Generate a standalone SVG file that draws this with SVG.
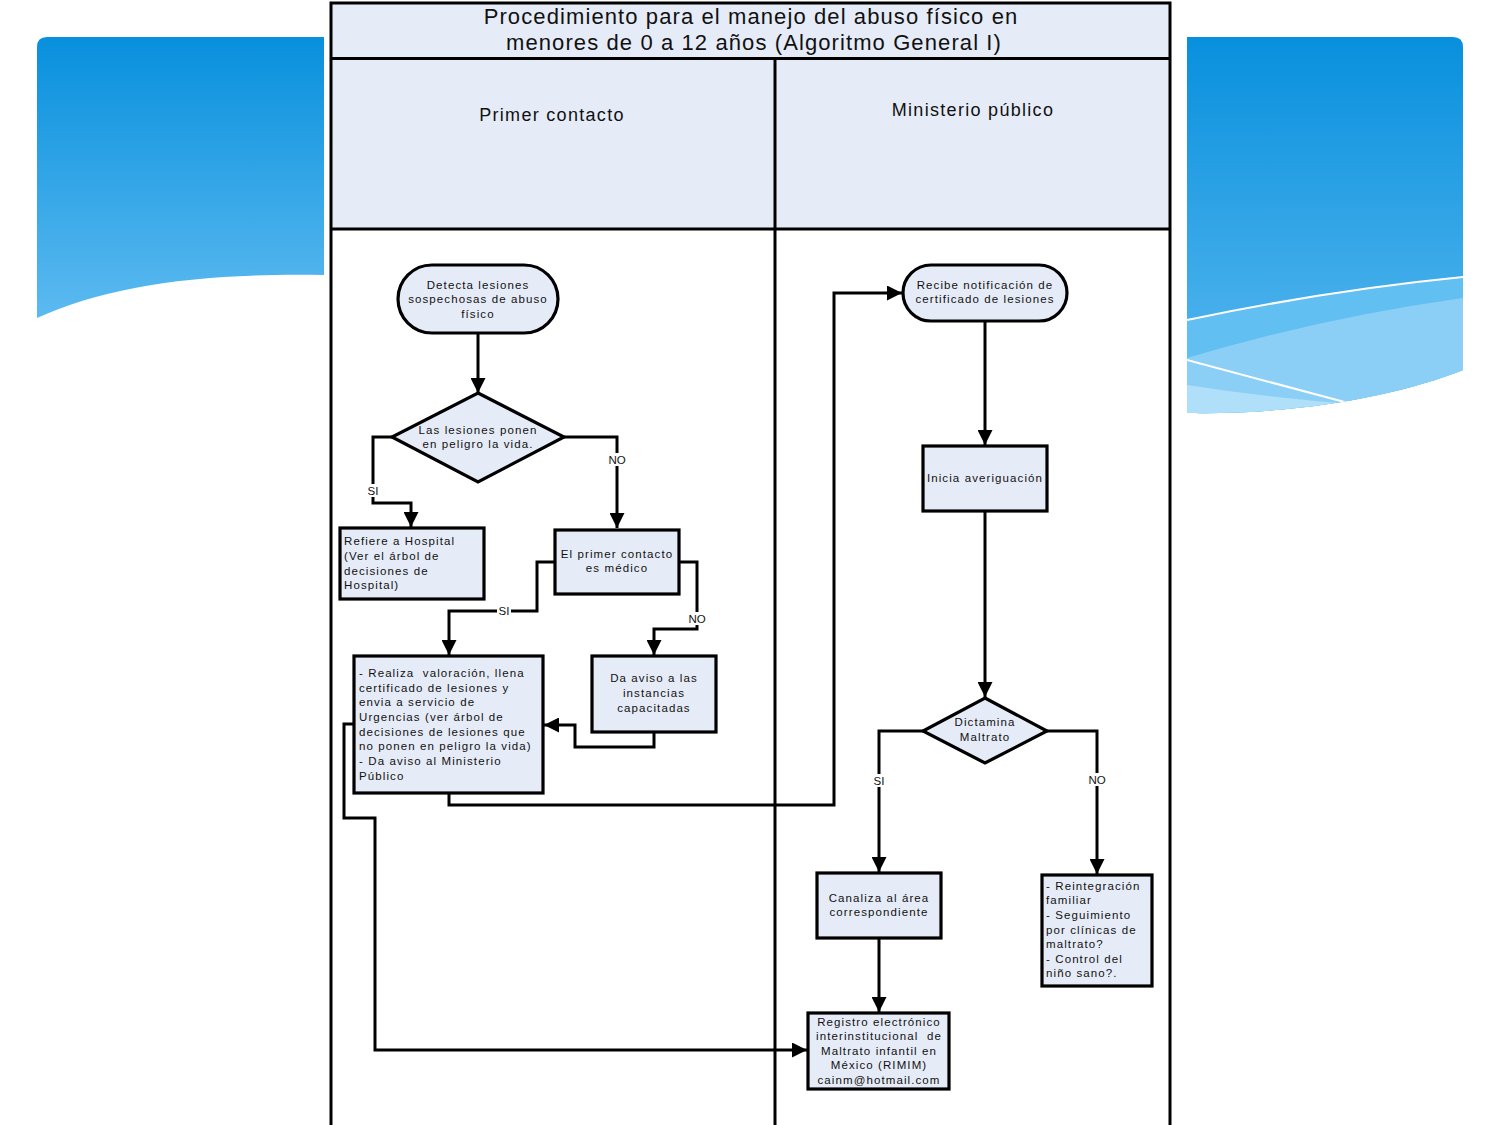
<svg xmlns="http://www.w3.org/2000/svg" width="1500" height="1125" viewBox="0 0 1500 1125">
<style>
.nd{fill:#e6ecf7;stroke:#000;stroke-width:3.2}
.t{font-family:"Liberation Sans",Arial,sans-serif;font-size:11.5px;letter-spacing:1.1px;fill:#111;white-space:pre}
.c{text-anchor:middle}
.hd{font-family:"Liberation Sans",Arial,sans-serif;font-size:18px;letter-spacing:1.3px;fill:#111;text-anchor:middle}
.ti{font-family:"Liberation Sans",Arial,sans-serif;font-size:22px;letter-spacing:1.1px;fill:#111;text-anchor:middle}
.cn{fill:none;stroke:#000;stroke-width:3}
.ar{marker-end:url(#ah)}
.lb{font-family:"Liberation Sans",Arial,sans-serif;font-size:11.5px;fill:#111;text-anchor:middle}
.lbg{fill:#fff}
.fr{fill:none;stroke:#000;stroke-width:3}
</style>
<defs>
<linearGradient id="bg" x1="0" y1="0" x2="0" y2="1">
<stop offset="0" stop-color="#0890dd"/>
<stop offset="1" stop-color="#5cbaf0"/>
</linearGradient>
<marker id="ah" markerUnits="userSpaceOnUse" markerWidth="15" markerHeight="15" refX="15" refY="7.5" orient="auto">
<path d="M0,0 L15,7.5 L0,15 z" fill="#000"/>
</marker>
<clipPath id="rc"><path d="M1187,37 H1453 Q1463,37 1463,47 V370 C1400,395 1300,415 1187,413 Z"/></clipPath>
</defs>

<g id="background">
<path d="M47,37 H324 V275 C200,273 110,285 37,318 V47 Q37,37 47,37 Z" fill="url(#bg)"/>
<path d="M1187,37 H1453 Q1463,37 1463,47 V370 C1400,395 1300,415 1187,413 Z" fill="url(#bg)"/>
<g clip-path="url(#rc)">
<path d="M1187,320 Q1330,290 1463,277 V430 H1187 Z" fill="#62bff1"/>
<path d="M1187,358 Q1320,318 1463,298 V430 H1187 Z" fill="#8ccff6"/>
<path d="M1187,385 Q1270,398 1352,404 L1187,430 Z" fill="#b0dff9"/>
<path d="M1187,320 Q1330,290 1463,277" fill="none" stroke="#fff" stroke-width="2"/>
<path d="M1187,360 L1352,404" fill="none" stroke="#fff" stroke-width="2"/>
</g>
</g>

<g id="frame">
<rect x="331" y="3" width="839" height="55" fill="#e6ecf7"/>
<rect x="331" y="58" width="444" height="171" fill="#e6ecf7"/>
<rect x="775" y="58" width="395" height="171" fill="#e6ecf7"/>
<rect x="331" y="229" width="839" height="900" fill="#fff"/>
<path class="fr" d="M331,1130 V3 H1170 V1130"/>
<path class="fr" d="M331,58.5 H1170 M331,229 H1170 M775,58 V1130"/>
<text class="ti" x="751" y="24">Procedimiento para el manejo del abuso físico en</text>
<text class="ti" x="754" y="50">menores de 0 a 12 años (Algoritmo General I)</text>
<text class="hd" x="552" y="121">Primer contacto</text>
<text class="hd" x="973" y="116">Ministerio público</text>
</g>

<g id="connectors">
<path class="cn ar" d="M478,333 V393"/>
<path class="cn ar" d="M392,437 H373 V503 H411 V527"/>
<path class="cn ar" d="M564,437 H617 V528"/>
<path class="cn ar" d="M555,562 H537 V611 H449 V655"/>
<path class="cn ar" d="M679,562 H697 V629 H654 V655"/>
<path class="cn ar" d="M654,732 V747 H575 V725 H544"/>
<path class="cn ar" d="M449,793 V805 H834 V293 H902"/>
<path class="cn ar" d="M354,724 H344 V818 H375 V1050 H807"/>
<path class="cn ar" d="M985,321 V445"/>
<path class="cn ar" d="M985,511 V697"/>
<path class="cn ar" d="M923,731 H879 V872"/>
<path class="cn ar" d="M1047,731 H1097 V874"/>
<path class="cn ar" d="M879,938 V1012"/>
<rect class="lbg" x="366" y="484" width="14" height="13"/>
<text class="lb" x="373" y="495">SI</text>
<rect class="lbg" x="606" y="453" width="22" height="13"/>
<text class="lb" x="617" y="464">NO</text>
<rect class="lbg" x="497" y="604" width="14" height="13"/>
<text class="lb" x="504" y="615">SI</text>
<rect class="lbg" x="686" y="612" width="22" height="13"/>
<text class="lb" x="697" y="623">NO</text>
<rect class="lbg" x="872" y="774" width="14" height="13"/>
<text class="lb" x="879" y="785">SI</text>
<rect class="lbg" x="1086" y="773" width="22" height="13"/>
<text class="lb" x="1097" y="784">NO</text>
</g>

<g id="n1">
<rect class="nd" x="398" y="265" width="160" height="68" rx="34" ry="34"/>
<text class="t c" x="478" y="289">Detecta lesiones</text>
<text class="t c" x="478" y="303">sospechosas de abuso</text>
<text class="t c" x="478" y="318">físico</text>
</g>
<g id="n2">
<polygon class="nd" points="478,393 564,437 478,482 392,437"/>
<text class="t c" x="478" y="434">Las lesiones ponen</text>
<text class="t c" x="478" y="448">en peligro la vida.</text>
</g>
<g id="n3">
<rect class="nd" x="340" y="528" width="144" height="71"/>
<text class="t" x="344" y="545">Refiere a Hospital</text>
<text class="t" x="344" y="560">(Ver el árbol de</text>
<text class="t" x="344" y="575">decisiones de</text>
<text class="t" x="344" y="589">Hospital)</text>
</g>
<g id="n4">
<rect class="nd" x="555" y="530" width="124" height="64"/>
<text class="t c" x="617" y="558">El primer contacto</text>
<text class="t c" x="617" y="572">es médico</text>
</g>
<g id="n5">
<rect class="nd" x="354" y="656" width="189" height="137"/>
<text class="t" x="359" y="677" xml:space="preserve">- Realiza  valoración, llena</text>
<text class="t" x="359" y="692">certificado de lesiones y</text>
<text class="t" x="359" y="706">envia a servicio de</text>
<text class="t" x="359" y="721">Urgencias (ver árbol de</text>
<text class="t" x="359" y="736">decisiones de lesiones que</text>
<text class="t" x="359" y="750">no ponen en peligro la vida)</text>
<text class="t" x="359" y="765">- Da aviso al Ministerio</text>
<text class="t" x="359" y="780">Público</text>
</g>
<g id="n6">
<rect class="nd" x="592" y="656" width="124" height="76"/>
<text class="t c" x="654" y="682">Da aviso a las</text>
<text class="t c" x="654" y="697">instancias</text>
<text class="t c" x="654" y="712">capacitadas</text>
</g>
<g id="n7">
<rect class="nd" x="903" y="265" width="164" height="56" rx="28" ry="28"/>
<text class="t c" x="985" y="289">Recibe notificación de</text>
<text class="t c" x="985" y="303">certificado de lesiones</text>
</g>
<g id="n8">
<rect class="nd" x="923" y="446" width="124" height="65"/>
<text class="t c" x="985" y="482">Inicia averiguación</text>
</g>
<g id="n9">
<polygon class="nd" points="985,698 1047,731 985,763 923,731"/>
<text class="t c" x="985" y="726">Dictamina</text>
<text class="t c" x="985" y="741">Maltrato</text>
</g>
<g id="n10">
<rect class="nd" x="817" y="873" width="124" height="65"/>
<text class="t c" x="879" y="902">Canaliza al área</text>
<text class="t c" x="879" y="916">correspondiente</text>
</g>
<g id="n11">
<rect class="nd" x="808" y="1013" width="141" height="76"/>
<text class="t c" x="879" y="1026">Registro electrónico</text>
<text class="t c" x="879" y="1040" xml:space="preserve">interinstitucional  de</text>
<text class="t c" x="879" y="1055">Maltrato infantil en</text>
<text class="t c" x="879" y="1069">México (RIMIM)</text>
<text class="t c" x="879" y="1084">cainm@hotmail.com</text>
</g>
<g id="n12">
<rect class="nd" x="1042" y="875" width="110" height="111"/>
<text class="t" x="1046" y="890">- Reintegración</text>
<text class="t" x="1046" y="904">familiar</text>
<text class="t" x="1046" y="919">- Seguimiento</text>
<text class="t" x="1046" y="934">por clínicas de</text>
<text class="t" x="1046" y="948">maltrato?</text>
<text class="t" x="1046" y="963">- Control del</text>
<text class="t" x="1046" y="977">niño sano?.</text>
</g>
</svg>
